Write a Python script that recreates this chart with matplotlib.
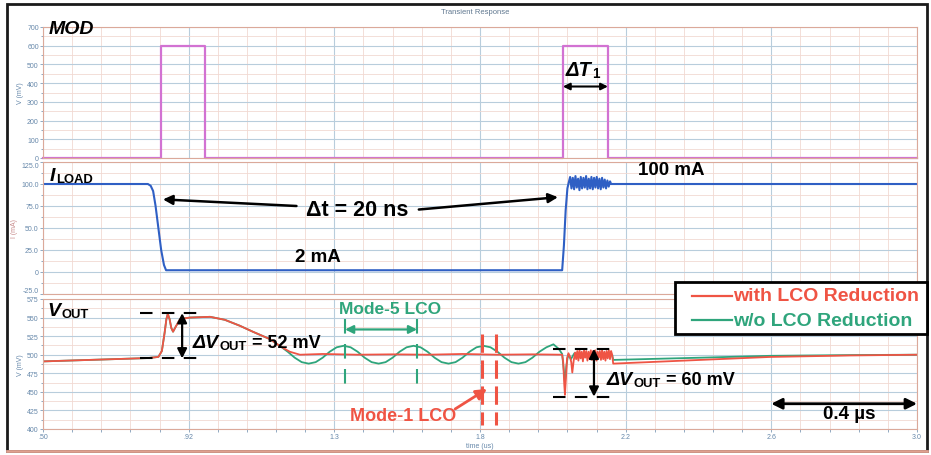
import numpy as np
import matplotlib
matplotlib.use('Agg')
import matplotlib.pyplot as plt
from matplotlib.ticker import MultipleLocator, AutoMinorLocator
from matplotlib.patches import Rectangle
from matplotlib.lines import Line2D

plt.rcParams['font.family'] = ['Liberation Sans', 'DejaVu Sans']

# x axis (time, us)
x_ticks = [0.5 + k * 2.5 / 6 for k in range(7)]
x_labels = ['.50', '.92', '1.3', '1.8', '2.2', '2.6', '3.0']

# MOD signal (mV)
mod_t = [0.5, 0.837, 0.837, 0.963, 0.963, 1.987, 1.987, 2.116, 2.116, 3.0]
mod_v = [0, 0, 600, 600, 0, 0, 600, 600, 0, 0]

# load current (mA)
iload_t = [0.5, 0.80, 0.808, 0.815, 0.822, 0.830, 0.838, 0.846, 0.852, 1.0, 1.5, 1.985,
           1.990, 1.995, 2.000]
iload_v = [100, 100, 98, 92, 75, 50, 25, 8, 2, 2, 2, 2, 30, 70, 95]
iload_ring = [102, 108, 95, 107, 94, 109, 96, 106, 93, 108, 95, 107, 96, 109, 94, 106,
              95, 108, 94, 107, 96, 108, 95, 106, 94, 107, 96, 105, 95, 104, 97, 103]
iload_end_t = [2.125, 3.0]
iload_end_v = [100, 100]

# output voltage (mV), common part before the LCO region
vpre_t = [0.50, 0.60, 0.70, 0.80, 0.83, 0.84, 0.848, 0.853, 0.857, 0.862, 0.867, 0.872,
          0.880, 0.892, 0.92, 0.978, 1.02, 1.063, 1.10, 1.149, 1.18]
vpre_v = [491, 492.5, 494, 495.5, 497, 505, 530, 548, 555, 548, 536, 531,
          538, 548, 550, 551, 547, 539, 531, 521, 511]

# with LCO reduction
red_t = [1.206, 1.235, 1.30, 1.40, 1.50, 1.60, 1.70, 1.80, 1.90, 1.985,
         1.988, 1.991, 1.993, 1.996, 1.999, 2.003, 2.007, 2.011, 2.014, 2.018, 2.022]
red_v = [504, 500, 501, 500, 500.5, 500, 501, 500, 500.5, 500,
         490, 460, 446, 470, 495, 502, 498, 490, 476, 492, 503]
red_ring = [494, 505, 492, 506, 495, 504, 491, 506, 496, 505, 492, 504, 494, 506, 493, 505,
            495, 506, 492, 504, 496, 505, 493, 506, 494, 504, 492, 505, 495, 506, 494, 505]
red_end_t = [2.128, 2.131, 2.38, 2.58, 2.81, 3.0]
red_end_v = [500, 488, 493, 497, 499, 500]

# w/o LCO reduction (mode-5 oscillation)
grn_osc = [504, 496, 490, 488, 490, 496, 504, 510, 512, 510,
           504, 496, 490, 488, 490, 496, 504, 510, 512, 510,
           504, 496, 490, 488, 490, 496, 504, 510, 512, 510,
           504, 496, 490, 488, 490, 496, 504, 510, 514]
grn_t = [1.975, 1.985, 1.990, 1.993, 1.997, 2.002, 2.010, 2.020, 2.060, 2.100,
         2.128, 2.131, 2.38, 2.58, 2.81, 3.0]
grn_v = [508, 501, 478, 462, 485, 500, 494, 502, 498, 501,
         500, 493, 496, 498.5, 499.5, 500]

RED = '#ef5444'
GRN = '#2fa57c'
BLUE = '#2f5fc4'
PINK = '#d272d2'
TICK = '#6688aa'

fig = plt.figure(figsize=(9.31, 4.56), dpi=100)
W, H = 931.0, 456.0


def box(x0, y0, x1, y1):
    return [x0 / W, 1 - y1 / H, (x1 - x0) / W, (y1 - y0) / H]


ax_m = fig.add_axes(box(43, 28, 917, 159))
ax_i = fig.add_axes(box(43, 163, 917, 295))
ax_v = fig.add_axes(box(43, 300, 917, 430))

for ax in (ax_m, ax_i, ax_v):
    ax.set_xlim(0.5, 3.0)
    ax.set_xticks(x_ticks)
    ax.xaxis.set_minor_locator(AutoMinorLocator(5))
    ax.yaxis.set_minor_locator(AutoMinorLocator(2))
    ax.grid(which='major', color='#b8cddc', lw=0.8)
    ax.grid(which='minor', color='#f1d9d2', lw=0.6)
    ax.set_axisbelow(True)
    for s in ax.spines.values():
        s.set_color('#dba99a')
        s.set_linewidth(0.8)
    ax.tick_params(axis='both', which='both', labelsize=5, colors=TICK, length=2, width=0.5, pad=1)
    ax.tick_params(axis='y', which='minor', length=1.2)
for ax in (ax_m, ax_i):
    ax.set_xticklabels([])
    ax.tick_params(axis='x', which='both', length=0)

ax_v.set_xticklabels(x_labels)
ax_v.set_xlabel('time (us)', fontsize=5, color=TICK, labelpad=1)

ax_m.set_ylim(0, 700)
ax_m.yaxis.set_major_locator(MultipleLocator(100))
ax_m.set_ylabel('V (mV)', fontsize=5, color=TICK, labelpad=2)
ax_i.set_ylim(-25, 125)
ax_i.set_yticks([-25, 0, 25, 50, 75, 100, 125])
ax_i.set_yticklabels(['-25.0', '0', '25.0', '50.0', '75.0', '100.0', '125.0'])
ax_i.set_ylabel('I (mA)', fontsize=5, color='#c88a8a', labelpad=2)
ax_v.set_ylim(400, 575)
ax_v.yaxis.set_major_locator(MultipleLocator(25))
ax_v.set_ylabel('V (mV)', fontsize=5, color=TICK, labelpad=2)

# keep the edge tick labels of stacked panels apart
fig.canvas.draw()
ax_m.get_yticklabels()[0].set_va('bottom')
ax_i.get_yticklabels()[-1].set_va('top')
ax_i.get_yticklabels()[0].set_va('bottom')
ax_v.get_yticklabels()[-1].set_va('top')

# traces
ax_m.plot(mod_t, mod_v, color=PINK, lw=1.6, clip_on=False)
ring_t = list(np.linspace(2.004, 2.122, len(iload_ring)))
ax_i.plot(iload_t + ring_t + iload_end_t, iload_v + iload_ring + iload_end_v, color=BLUE, lw=1.5)

osc_t = list(np.linspace(1.20, 1.96, len(grn_osc)))
rr_t = list(np.linspace(2.025, 2.125, len(red_ring)))
ax_v.plot(vpre_t + osc_t + grn_t, vpre_v + grn_osc + grn_v, color=GRN, lw=1.3)
ax_v.plot(vpre_t + red_t + rr_t + red_end_t, vpre_v + red_v + red_ring + red_end_v,
          color=RED, lw=1.3)

# legend box drawn in figure pixels
fig.add_artist(Rectangle((675 / W, 1 - 335 / H), 252 / W, 52 / H, transform=fig.transFigure,
                         fc='white', ec='black', lw=2, zorder=5))
for yy, col, lab in ((297, RED, 'with LCO Reduction'), (321, GRN, 'w/o LCO Reduction')):
    fig.add_artist(Line2D([692 / W, 732 / W], [1 - yy / H, 1 - yy / H], transform=fig.transFigure,
                          color=col, lw=1.6, zorder=6))
    fig.text(733 / W, 1 - yy / H, lab, color=col, fontsize=14, fontweight='bold', va='center',
             ha='left', zorder=6)


def sub_label(ax, x, y, main, sub, rest='', color='black', size=13.5, coords='data'):
    t1 = ax.annotate(main, xy=(x, y), xycoords=coords, fontsize=size + 1, fontweight='bold',
                     fontstyle='italic', color=color, ha='left', va='baseline')
    t2 = ax.annotate(sub, xy=(1, y), xycoords=(t1, coords), xytext=(0.5, -1.5),
                     textcoords='offset points', fontsize=size * 0.72, fontweight='bold',
                     color=color, ha='left', va='baseline')
    if rest:
        ax.annotate(rest, xy=(1, y), xycoords=(t2, coords), fontsize=size, fontweight='bold',
                    color=color, ha='left', va='baseline')


def arrow(ax, tail, tip, color='black', style='-|>', lw=1.8, ms=14):
    ax.annotate('', xy=tip, xytext=tail,
                arrowprops=dict(arrowstyle=style, color=color, lw=lw, mutation_scale=ms,
                                shrinkA=0, shrinkB=0))


# panel labels
ax_m.text(0.006, 0.955, 'MOD', transform=ax_m.transAxes, fontsize=14, fontweight='bold',
          fontstyle='italic', va='baseline')
sub_label(ax_i, 0.008, 0.864, 'I', 'LOAD', coords='axes fraction', size=13)
sub_label(ax_v, 0.005, 0.877, 'V', 'OUT', coords='axes fraction', size=13)

# MOD annotations
sub_label(ax_m, 1.996, 446, '\u0394T', '1', size=13.5)
arrow(ax_m, (1.987, 382), (2.116, 382), style='<|-|>', lw=1.5, ms=10)

# ILOAD annotations
ax_i.text(1.398, 71, '\u0394t = 20 ns', fontsize=15.5, fontweight='bold', ha='center', va='center')
arrow(ax_i, (1.225, 75), (0.843, 82.5))
arrow(ax_i, (1.575, 71), (1.973, 85))
ax_i.text(1.287, 17.5, '2 mA', fontsize=13.5, fontweight='bold', ha='center', va='center')
ax_i.text(2.296, 116, '100 mA', fontsize=13.5, fontweight='bold', ha='center', va='center')

# VOUT annotations
for yy in (556, 495):
    ax_v.plot([0.777, 0.963], [yy, yy], color='black', lw=1.5, dashes=(6, 4.5))
arrow(ax_v, (0.898, 525), (0.898, 556), lw=1.6, ms=14)
arrow(ax_v, (0.898, 525), (0.898, 495), lw=1.6, ms=14)
sub_label(ax_v, 0.929, 511, '\u0394V', 'OUT', ' = 52 mV', size=13)

for yy in (508, 443.5):
    ax_v.plot([1.959, 2.139], [yy, yy], color='black', lw=1.5, dashes=(6, 4.5))
arrow(ax_v, (2.076, 476), (2.076, 508), lw=1.6, ms=14)
arrow(ax_v, (2.076, 476), (2.076, 443.5), lw=1.6, ms=14)
sub_label(ax_v, 2.113, 461, '\u0394V', 'OUT', ' = 60 mV', size=13)

ax_v.text(1.492, 562, 'Mode-5 LCO', color=GRN, fontsize=12.5, fontweight='bold', ha='center',
          va='center')
arrow(ax_v, (1.364, 534), (1.570, 534), color=GRN, style='<|-|>', lw=1.6, ms=12)
for xx in (1.364, 1.570):
    ax_v.plot([xx, xx], [548, 461], color=GRN, lw=1.5, dashes=(7, 5))

ax_v.text(1.530, 418, 'Mode-1 LCO', color=RED, fontsize=13, fontweight='bold', ha='center',
          va='center')
arrow(ax_v, (1.679, 427), (1.770, 454), color=RED, lw=2, ms=16)
for xx in (1.756, 1.796):
    ax_v.plot([xx, xx], [528, 405], color=RED, lw=2.2, dashes=(6, 2.5), clip_on=False)

arrow(ax_v, (2.583, 434), (3.0, 434), style='<|-|>', lw=2, ms=16)
ax_v.text(2.806, 421, '0.4 \u00b5s', fontsize=13.5, fontweight='bold', ha='center', va='center')

# title and outer frame
fig.text(475 / W, 1 - 13 / H, 'Transient Response', fontsize=5.5, color='#607890',
         ha='center', va='center')
fig.add_artist(Rectangle((7 / W, 1 - 452 / H), 920 / W, 447 / H, transform=fig.transFigure,
                         fill=False, ec='#1a1a1a', lw=2))
fig.add_artist(Line2D([7 / W, 927 / W], [1 - 452 / H, 1 - 452 / H], transform=fig.transFigure,
                      color='#e0a090', lw=2))

fig.savefig('out.png', dpi=100)
